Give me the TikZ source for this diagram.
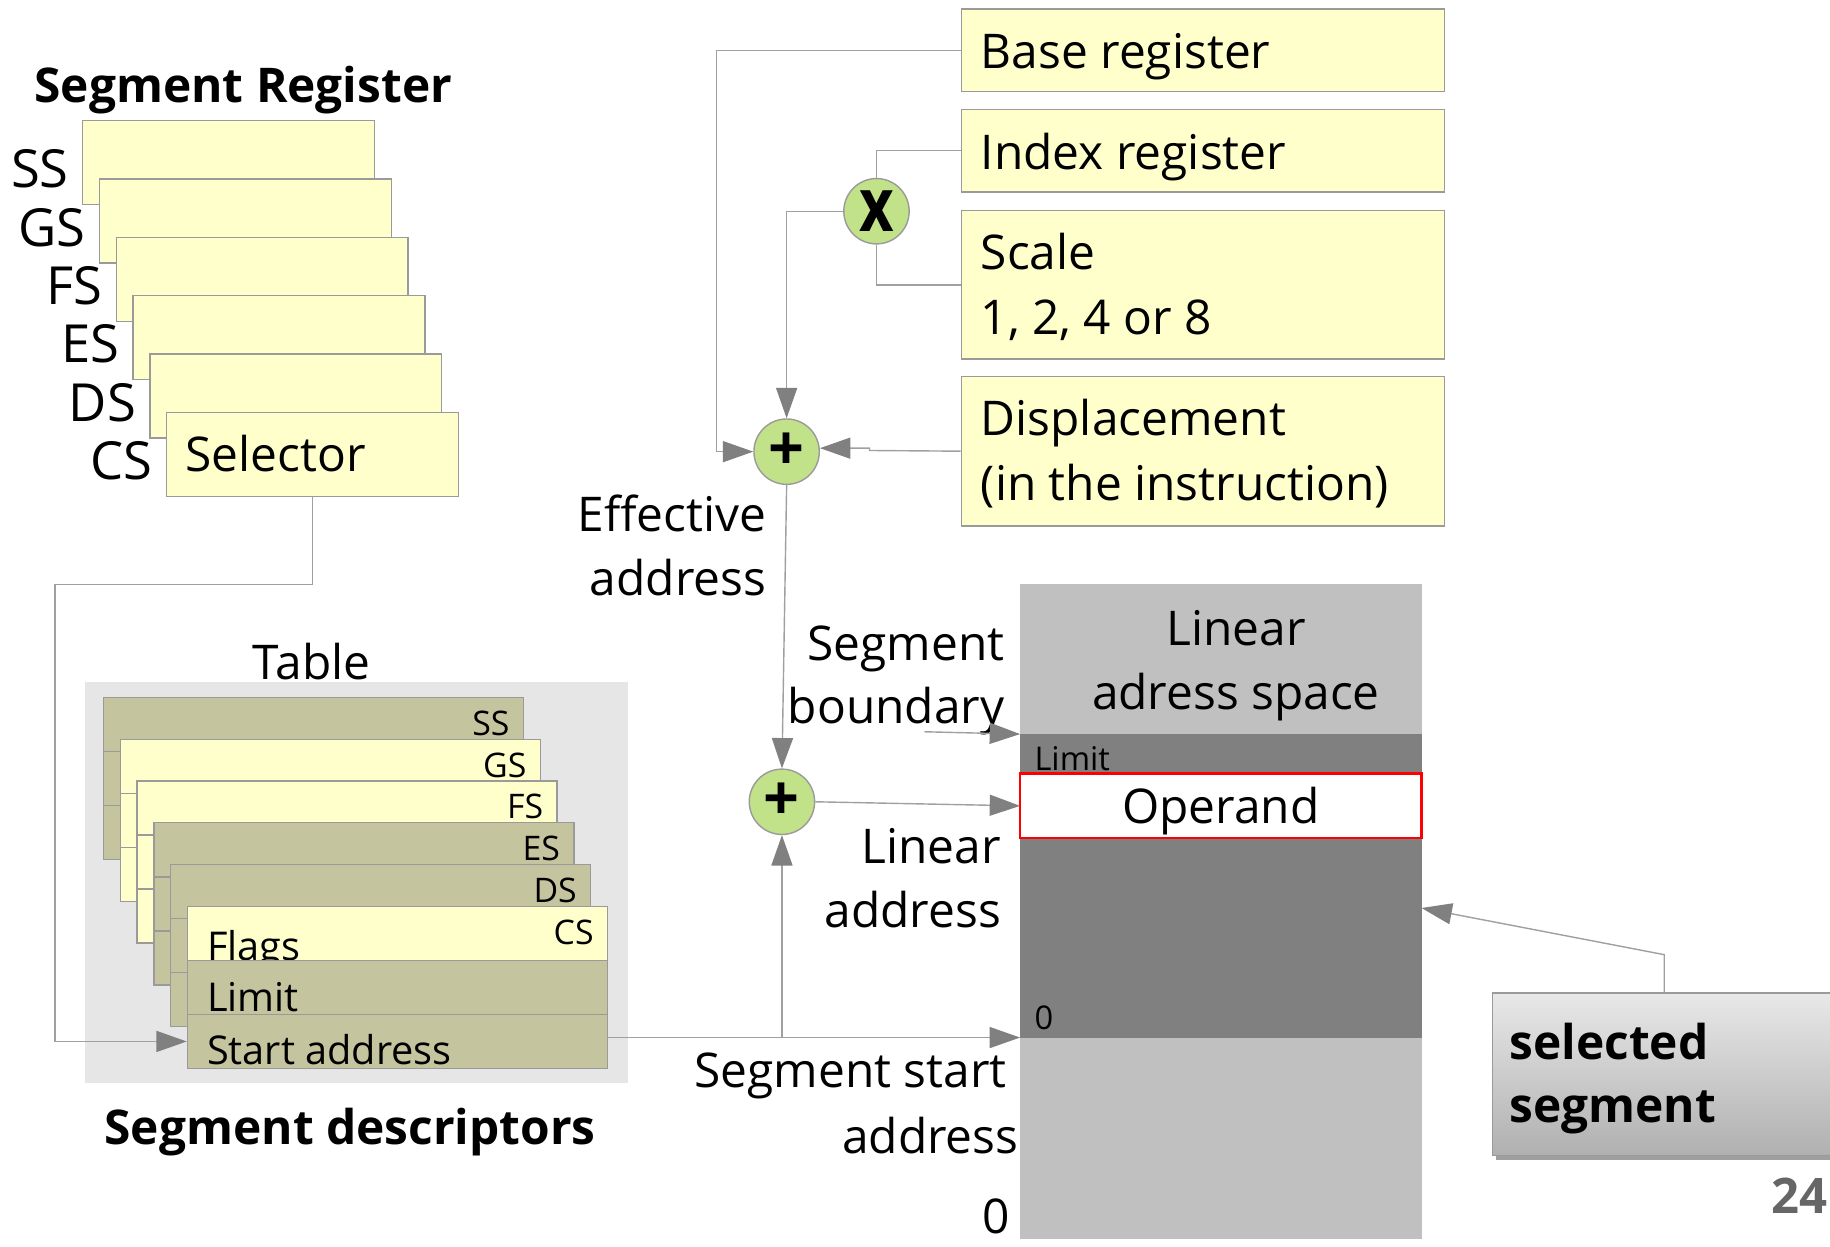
\documentclass[tikz,border=0pt]{standalone}
\usepackage{fontspec}
\setmainfont{Open Sans}
\usepackage{graphicx}
\usetikzlibrary{arrows.meta}

\definecolor{regfill}{HTML}{FFFFCC}
\definecolor{descolive}{HTML}{C4C49E}
\definecolor{tablebg}{HTML}{E6E6E6}
\definecolor{edgegray}{HTML}{9A9A9A}
\definecolor{wiregray}{HTML}{A0A0A0}
\definecolor{tipgray}{HTML}{808080}
\definecolor{sumgreen}{HTML}{C2E28A}
\definecolor{spacelight}{HTML}{C0C0C0}
\definecolor{spacedark}{HTML}{808080}
\definecolor{seltop}{HTML}{E8E8E8}
\definecolor{selbot}{HTML}{B0B0B0}
\definecolor{pagenum}{HTML}{666666}

\newcommand{\fsbig}{\fontsize{20.5}{28}\selectfont}
\newcommand{\fsreg}{\fontsize{22.5}{28}\selectfont}
\newcommand{\fsmid}{\fontsize{17}{22}\selectfont}
\newcommand{\fssmall}{\fontsize{14.5}{18}\selectfont}
\newcommand{\fstiny}{\fontsize{14}{18}\selectfont}

\tikzset{
  regbox/.style={draw=edgegray, fill=regfill, line width=0.6pt, inner sep=0pt, anchor=north west},
  cardrow/.style={draw=edgegray, line width=0.6pt, inner sep=0pt, anchor=north west,
                  minimum width=180pt, minimum height=23.15pt},
  txt/.style={inner sep=0pt, font=\fsbig},
  wire/.style={draw=wiregray, line width=0.6pt},
  arrowed/.style={-{Triangle[length=13pt,width=9pt,color=tipgray]}},
  sumnode/.style={circle, draw=edgegray, fill=sumgreen, line width=0.6pt,
                  minimum size=28pt, inner sep=0pt},
  plain/.style={inner sep=0pt, outer sep=0pt, anchor=north west},
}

\begin{document}
\begin{tikzpicture}[x=0.5pt, y=-0.5pt]
\useasboundingbox (0,0) rectangle (1568,1068);
\fill[white] (0,0) rectangle (1568,1068);

% ---------- segment register stack ----------
\node[txt, font=\fsbig\bfseries, anchor=base] (regtitle) at (208.5,88) {Segment Register};
\foreach \i/\lab in {0/SS,1/GS,2/FS,3/ES,4/DS,5/CS}{
  \pgfmathsetmacro\L{70.3+14.4*\i}
  \pgfmathsetmacro\T{102.8+50*\i}
  \node[regbox, minimum width=125pt, minimum height=36pt] (reg\lab) at (\L,\T) {};
  \node[txt, font=\fsreg, anchor=base east] (reg\lab name) at (\L-11,\T+58) {\lab};
}
\node[txt, anchor=base west] (selector) at (158.5,404) {Selector};

% ---------- descriptor table ----------
\node[plain, fill=tablebg, minimum width=232.5pt, minimum height=172pt] (tablearea) at (73,584) {};
\node[txt, anchor=base] (tabletitle) at (267,582) {Table};
\foreach \i/\lab/\col in {0/SS/descolive,1/GS/regfill,2/FS/regfill,3/ES/descolive,4/DS/descolive}{
  \pgfmathsetmacro\L{88+14.4*\i}
  \pgfmathsetmacro\T{597+35.8*\i}
  \node[cardrow, fill=\col] (card\lab a) at (\L,\T) {};
  \node[cardrow, fill=\col] (card\lab b) at (\L,\T+46.3) {};
  \node[cardrow, fill=\col] (card\lab c) at (\L,\T+92.6) {};
  \node[txt, font=\fssmall, anchor=base east] (card\lab name) at (\L+349,\T+33) {\lab};
}
\node[cardrow, fill=regfill] (csFlags) at (160,776) {};
\node[txt, font=\fssmall, anchor=base east] (cardCSname) at (509,809) {CS};
\node[txt, font=\fsmid, anchor=base west] (flagstext) at (177,823) {Flags};
\node[cardrow, fill=descolive] (csLimit) at (160,822.3) {};
\node[txt, font=\fsmid, anchor=base west] (limittext) at (177,867) {Limit};
\node[cardrow, fill=descolive] (csStart) at (160,868.6) {};
\node[txt, font=\fsmid, anchor=base west] (starttext) at (177,912) {Start address};
\node[txt, font=\fsbig\bfseries, anchor=base] (desctitle) at (300,981) {Segment descriptors};

% ---------- address components ----------
\node[regbox, minimum width=207pt, minimum height=35.5pt] (base) at (823,7) {};
\node[txt, anchor=base west] (basetext) at (840,59) {Base register};
\node[regbox, minimum width=207pt, minimum height=35.5pt] (index) at (823,93) {};
\node[txt, anchor=base west] (indextext) at (840,145) {Index register};
\node[regbox, minimum width=207pt, minimum height=63.5pt] (scale) at (823,180) {};
\node[txt, anchor=base west] (scaletext) at (840,231) {Scale};
\node[txt, anchor=base west] (scalevals) at (840,287) {1, 2, 4 or 8};
\node[regbox, minimum width=207pt, minimum height=64pt] (disp) at (823,322) {};
\node[txt, anchor=base west] (disptext) at (840,373) {Displacement};
\node[txt, anchor=base west] (dispnote) at (840,429) {(in the instruction)};

\node[sumnode] (mul) at (751,181) {\scalebox{0.8}[1]{\fontsize{32}{32}\selectfont\bfseries x}};
\node[sumnode] (plus1) at (674,387) {\fontsize{27}{27}\selectfont\bfseries +};
\node[sumnode] (plus2) at (670,687) {\fontsize{27}{27}\selectfont\bfseries +};

% ---------- linear address space ----------
\node[plain, fill=spacelight, minimum width=172pt, minimum height=281pt] (linspace) at (874,500) {};
\node[plain, fill=spacedark, minimum width=172pt, minimum height=130pt] (segdark) at (874,629) {};
\node[plain, draw=red, line width=1.2pt, fill=white, minimum width=172pt, minimum height=27.5pt] (operand) at (874,663) {};
\node[txt, anchor=base] (operandtext) at (1046,706) {Operand};
\node[txt, font=\fstiny, anchor=base west] (limitmark) at (886,660) {Limit};
\node[txt, font=\fstiny, anchor=base west] (zeromark) at (886,882) {0};
\node[txt, anchor=base] (spacel1) at (1059,553) {Linear};
\node[txt, anchor=base] (spacel2) at (1059,608) {adress space};

% ---------- side labels ----------
\node[txt, anchor=base east] (eff1) at (657,455) {Effective};
\node[txt, anchor=base east] (eff2) at (657,510) {address};
\node[txt, anchor=base east] (bnd1) at (861,566) {Segment};
\node[txt, anchor=base east] (bnd2) at (861,620) {boundary};
\node[txt, anchor=base east] (lin1) at (858,740) {Linear};
\node[txt, anchor=base east] (lin2) at (858,795) {address};
\node[txt, anchor=base east] (sst1) at (863,932) {Segment start};
\node[txt, anchor=base east] (sst2) at (873,988) {address};
\node[txt, anchor=base east] (bottomzero) at (866,1057) {0};

% ---------- selected segment ----------
\fill[gray!75] (1282,855) rectangle (1600,994);
\node[plain, draw=edgegray, line width=0.6pt, top color=seltop, bottom color=selbot,
      minimum width=160pt, minimum height=69.5pt] (selbox) at (1279,851) {};
\node[txt, font=\fsbig\bfseries, anchor=base west] (sel1) at (1293,908) {selected};
\node[txt, font=\fsbig\bfseries, anchor=base west] (sel2) at (1293,962) {segment};
\node[txt, font=\fontsize{21}{24}\selectfont\bfseries, text=pagenum, anchor=base east] (pageno) at (1566,1040) {24};

% ---------- connectors ----------
\draw[wire, arrowed] (regCS.south) |- (47,501) |- (csStart.west);
\draw[wire, arrowed] (csStart.east |- segdark.south) -- (segdark.south west);
\draw[wire, arrowed] (plus2 |- segdark.south) -- (plus2.south);
\draw[wire, arrowed] (plus2.east) -- (operand.west);
\draw[wire, arrowed] (plus1.south) -- (plus2.north);
\coordinate (bndfoot) at (792,627);
\draw[wire, arrowed] (bndfoot) -- (segdark.north west);
\draw[wire, arrowed] (base.west) -| (614,387) -- (plus1.west);
\draw[wire] (index.west) -| (mul.north);
\draw[wire] (scale.west) -| (mul.south);
\draw[wire, arrowed] (mul.west) -| (plus1.north);
\draw[wire, arrowed] (disp.west) -- (745,386) -- (745,384) -- (plus1.east |- 0,384);
\coordinate (selknee) at (1426,818);
\draw[wire, arrowed] (selbox.north west -| selknee) -- (selknee) -- (linspace.east |- 0,778);
\end{tikzpicture}
\end{document}
